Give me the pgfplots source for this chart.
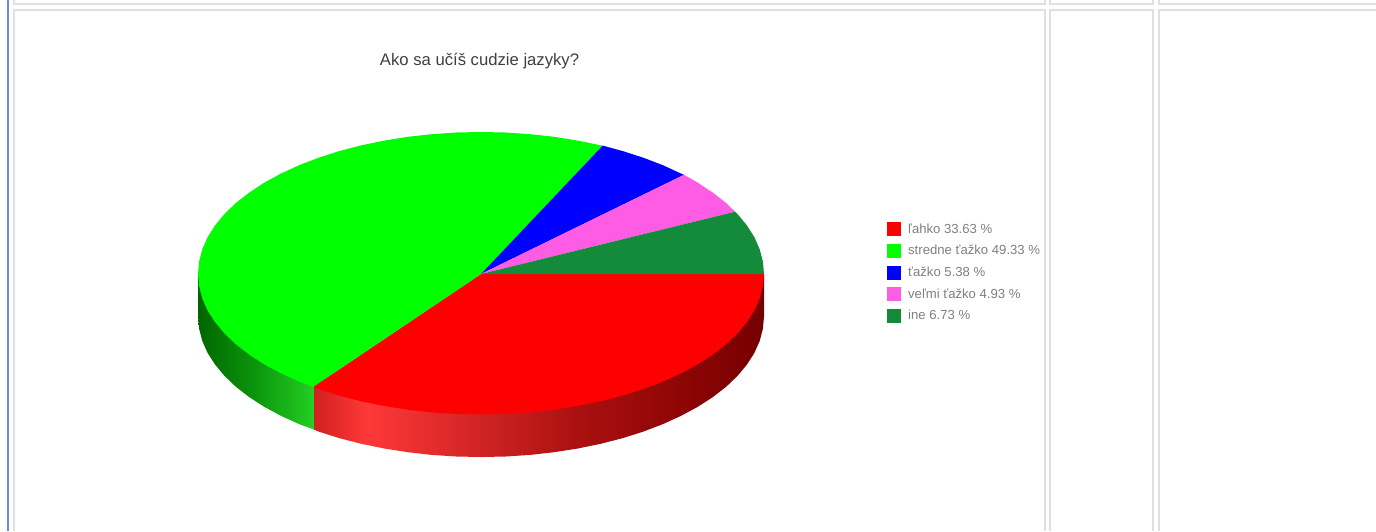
\documentclass[border=0pt]{standalone}
\usepackage{fontspec}
\setmainfont{Liberation Sans}
\usepackage{pgfplots}
\pgfplotsset{compat=1.18}
\definecolor{cellline}{HTML}{E0E0E0}
\definecolor{pagebar}{HTML}{6A8AE0}
\definecolor{pinkslice}{HTML}{FF5CE6}
\definecolor{ineslice}{HTML}{148B3A}
\pgfdeclarehorizontalshading{redwall}{100bp}{
  color(0bp)=(rgb,255:red,208;green,32;blue,32);
  color(25bp)=(rgb,255:red,208;green,32;blue,32);
  color(31bp)=(rgb,255:red,255;green,56;blue,56);
  color(44.6bp)=(rgb,255:red,204;green,34;blue,34);
  color(54.6bp)=(rgb,255:red,170;green,16;blue,16);
  color(65.7bp)=(rgb,255:red,143;green,5;blue,5);
  color(75bp)=(rgb,255:red,117;green,0;blue,0);
  color(100bp)=(rgb,255:red,117;green,0;blue,0)}
\pgfdeclarehorizontalshading{greenwall}{100bp}{
  color(0bp)=(rgb,255:red,0;green,102;blue,0);
  color(25bp)=(rgb,255:red,0;green,102;blue,0);
  color(50bp)=(rgb,255:red,12;green,150;blue,12);
  color(75bp)=(rgb,255:red,36;green,206;blue,36);
  color(100bp)=(rgb,255:red,36;green,206;blue,36)}
\begin{document}
\begin{tikzpicture}
\begin{axis}[
  scale only axis, width=1032pt, height=398.25pt,
  xmin=0, xmax=1376, ymin=0, ymax=531, y dir=reverse,
  hide axis,
  title={Ako sa učíš cudzie jazyky?},
  title style={at={(0.3485,0.870)}, anchor=center, font=\fontsize{12.5}{14}\selectfont, text=black!75},
  legend cell align=left,
  legend style={at={(axis cs:886.5,221)}, anchor=north west, draw=none, fill=none, inner sep=0pt, outer sep=0pt,
    font=\fontsize{9.85}{11}\selectfont, text=black!50, row sep=3.6pt},
  legend image code/.code={\path[#1] (0pt,-5.25pt) rectangle (10.5pt,5.25pt); \path (14.25pt,0pt);},
]
% page background and table-cell rules
\addplot[forget plot, fill=white, draw=none] coordinates {(0,0)(1376,0)(1376,531)(0,531)} --cycle;
\addplot[forget plot, pagebar, line width=1.5pt] coordinates {(8,0)(8,531)};
\addplot[forget plot, cellline, line width=1.5pt] coordinates {(14,0)(14,4)(1045,4)(1045,0)};
\addplot[forget plot, cellline, line width=1.5pt] coordinates {(1050,0)(1050,4)(1153,4)(1153,0)};
\addplot[forget plot, cellline, line width=1.5pt] coordinates {(1159,0)(1159,4)(1376,4)};
\addplot[forget plot, cellline, line width=1.5pt] coordinates {(14,531)(14,10)(1045,10)(1045,531)};
\addplot[forget plot, cellline, line width=1.5pt] coordinates {(1050,531)(1050,10)(1153,10)(1153,531)};
\addplot[forget plot, cellline, line width=1.5pt] coordinates {(1159,531)(1159,10)(1376,10)};
% side walls
\addplot[forget plot, draw=none, shading=redwall] coordinates {
 (764,274)(764,316.5)(762.9,328.7)(759.7,340.9)(754.4,352.9)(746.9,364.6)(737.5,375.9)(726.1,386.8)(712.8,397.1)(697.8,406.8)(681.1,415.8)(662.9,424.1)(643.3,431.6)(622.5,438.2)(600.6,443.8)(577.8,448.5)(554.2,452.2)(530.1,454.9)(505.7,456.5)(481,457)(456.3,456.5)(431.9,454.9)(407.8,452.2)(384.2,448.5)(361.4,443.8)(339.5,438.2)(318.7,431.6)(313.3,429.3)(313.3,380)} --cycle;
\addplot[forget plot, draw=none, shading=greenwall] coordinates {
 (198,274)(198,316.5)(199.1,328.7)(202.3,340.9)(207.6,352.9)(215.1,364.6)(224.5,375.9)(235.9,386.8)(249.2,397.1)(264.2,406.8)(280.9,415.8)(299.1,424.1)(313.3,429.3)(313.3,380)} --cycle;
% top face
\addplot[fill=red, draw=none] coordinates {
 (481,274)(764,274)(762.9,286.2)(759.7,298.4)(754.4,310.4)(746.9,322.1)(737.5,333.4)(726.1,344.3)(712.8,354.6)(697.8,364.3)(681.1,373.3)(662.9,381.6)(643.3,389.1)(622.5,395.7)(600.6,401.3)(577.8,406)(554.2,409.7)(530.1,412.4)(505.7,414)(481,414.5)(456.3,414)(431.9,412.4)(407.8,409.7)(384.2,406)(361.4,401.3)(339.5,395.7)(318.7,389.1)(313.3,386.8)} --cycle;
\addlegendentry{ľahko 33.63 \%}
\addplot[fill=green, draw=none] coordinates {
 (481,274)(602.7,145.6)(600.6,145.3)(577.8,140.6)(554.2,136.8)(530.1,134.2)(505.7,132.5)(481,132)(456.3,132.5)(431.9,134.2)(407.8,136.8)(384.2,140.6)(361.4,145.3)(339.5,151)(318.7,157.7)(299.1,165.2)(280.9,173.6)(264.2,182.7)(249.2,192.6)(235.9,203)(224.5,214)(215.1,225.4)(207.6,237.2)(202.3,249.3)(199.1,261.6)(198,274)(199.1,286.2)(202.3,298.4)(207.6,310.4)(215.1,322.1)(224.5,333.4)(235.9,344.3)(249.2,354.6)(264.2,364.3)(280.9,373.3)(299.1,381.6)(313.3,386.8)} --cycle;
\addlegendentry{stredne ťažko 49.33 \%}
\addplot[fill=blue, draw=none] coordinates {
 (481,274)(684,174.8)(681.1,173.6)(662.9,165.2)(643.3,157.7)(622.5,151)(602.7,145.6)} --cycle;
\addlegendentry{ťažko 5.38 \%}
\addplot[fill=pinkslice, draw=none] coordinates {
 (481,274)(735,211.7)(726.1,203)(712.8,192.6)(697.8,182.7)(684,174.8)} --cycle;
\addlegendentry{veľmi ťažko 4.93 \%}
\addplot[fill=ineslice, draw=none] coordinates {
 (481,274)(764,274)(762.9,261.6)(759.7,249.3)(754.4,237.2)(746.9,225.4)(737.5,214)(735,211.7)} --cycle;
\addlegendentry{ine 6.73 \%}
\end{axis}
\end{tikzpicture}
\end{document}
